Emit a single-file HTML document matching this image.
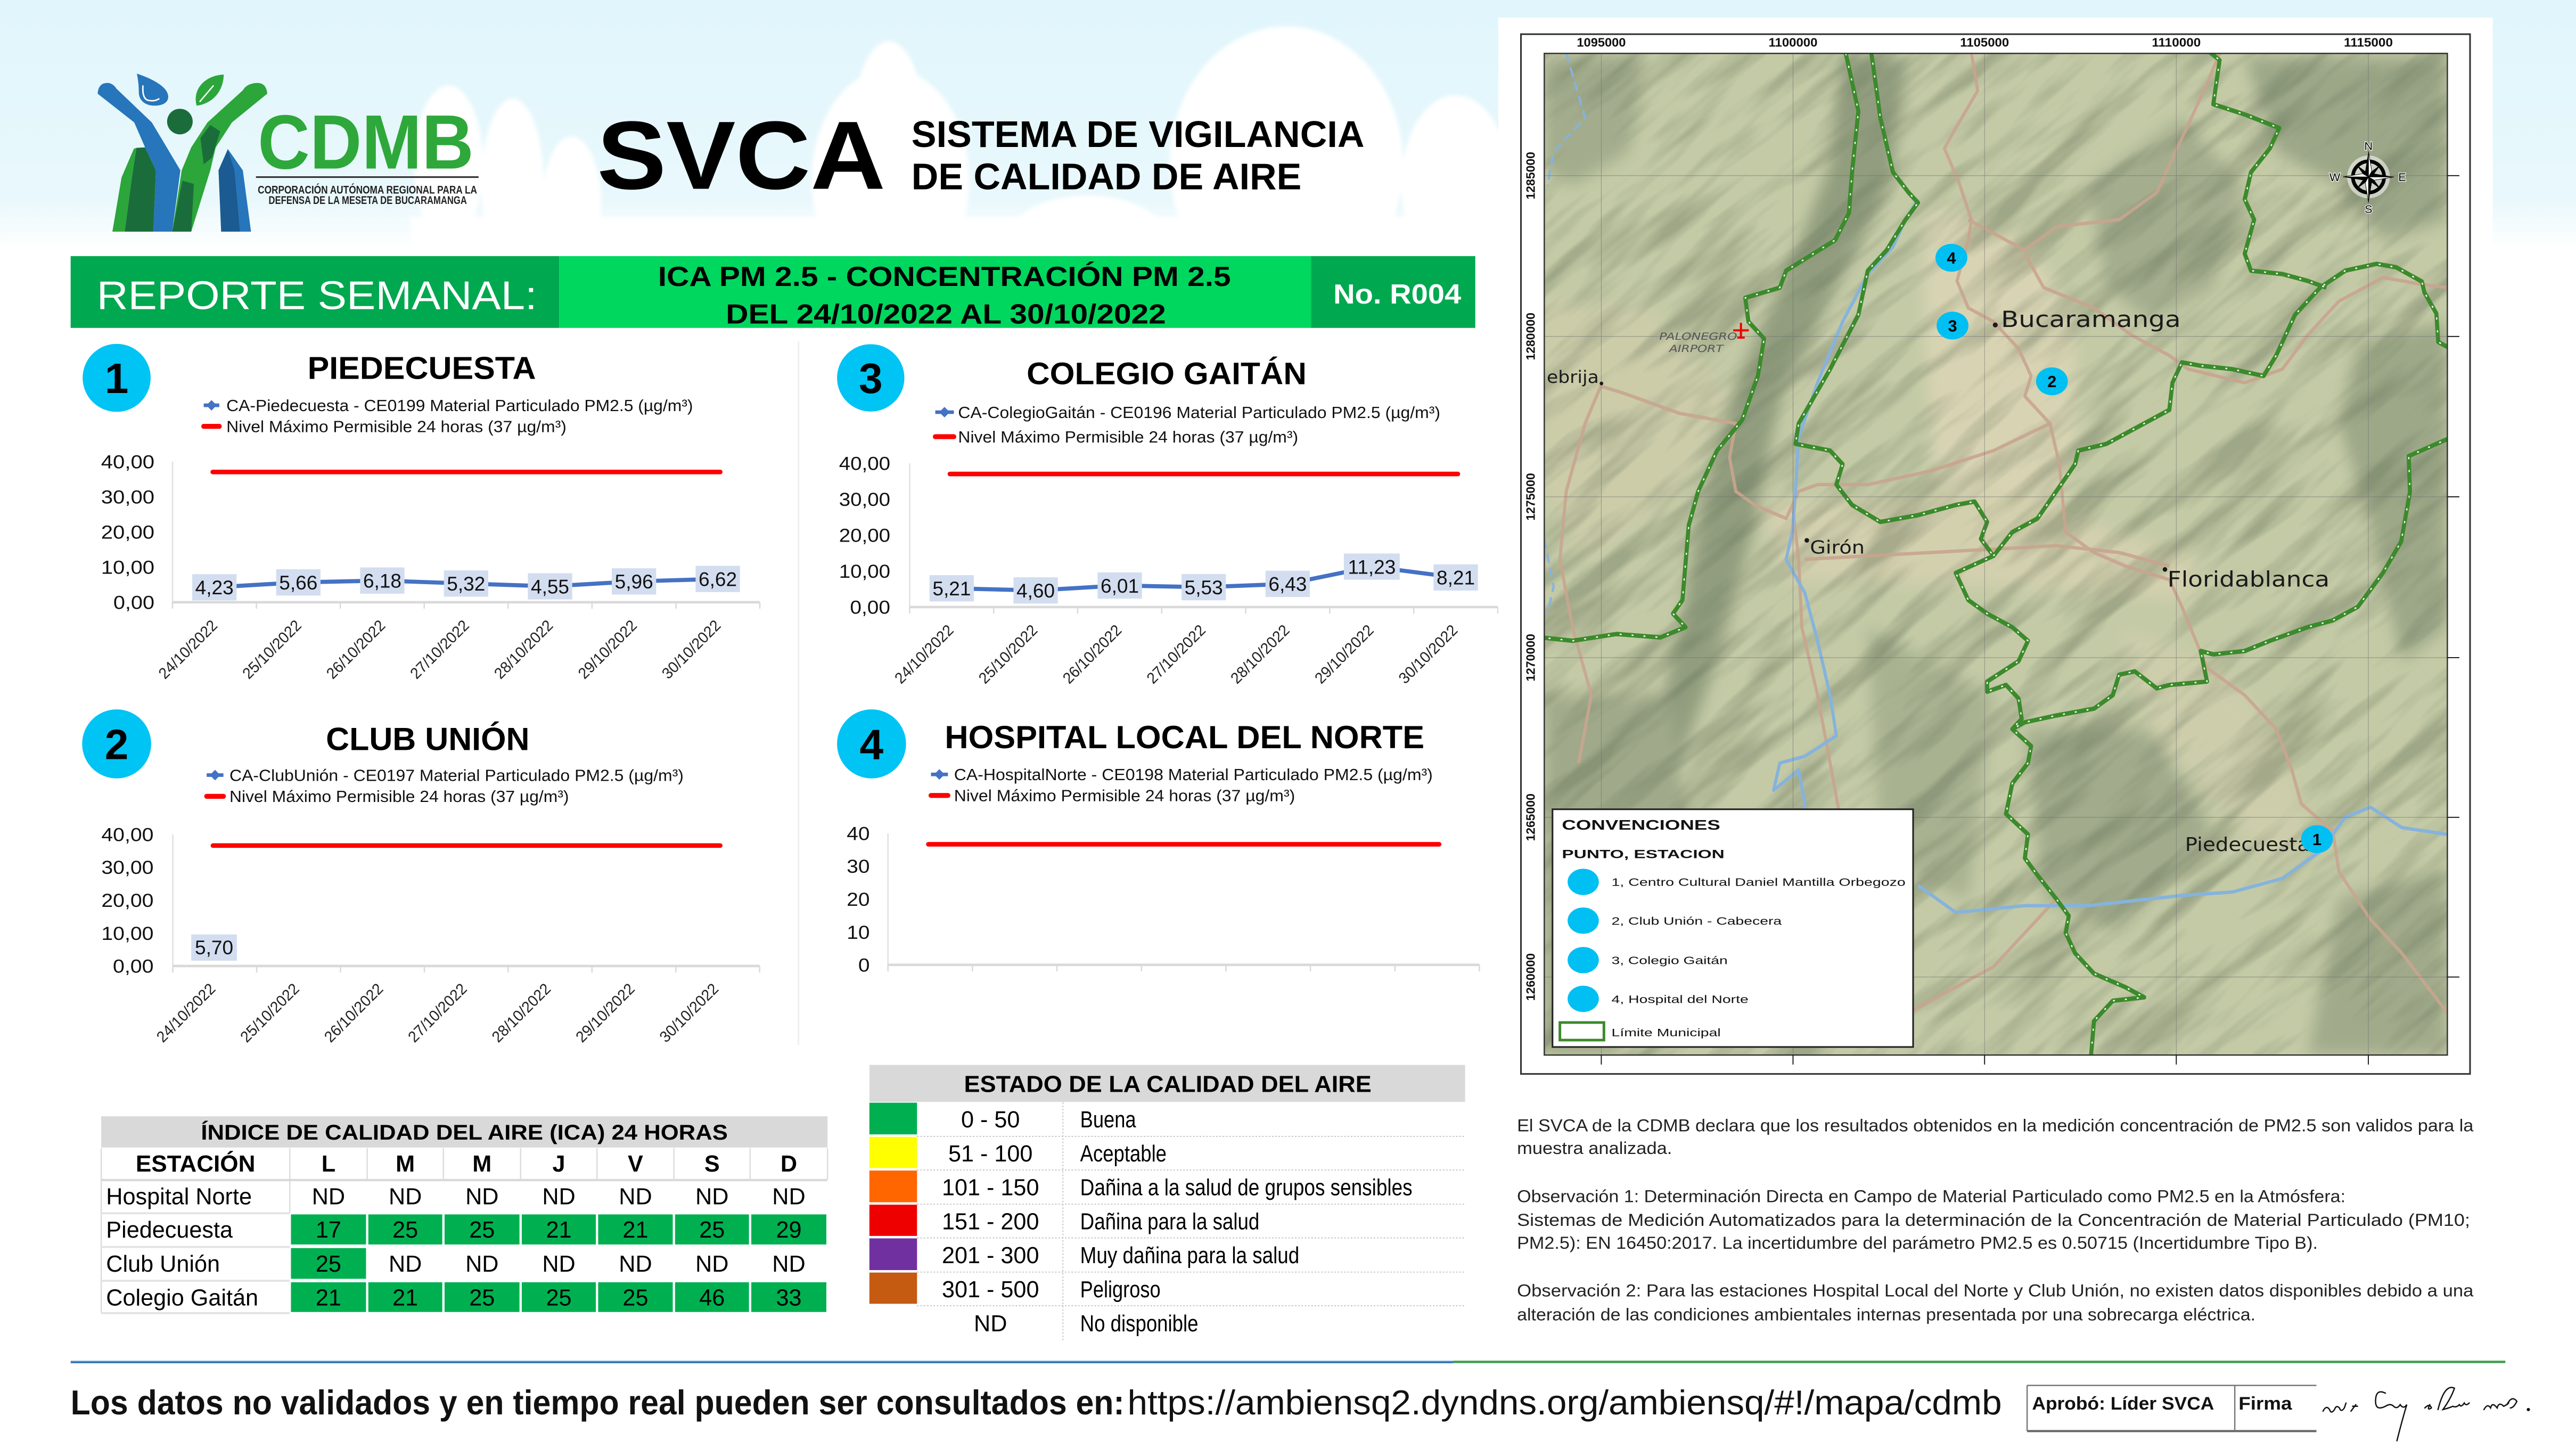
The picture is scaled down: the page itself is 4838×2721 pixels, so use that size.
<!DOCTYPE html>
<html><head><meta charset="utf-8">
<style>
html,body{margin:0;padding:0;background:#fff;overflow:hidden;width:4838px;height:2721px}
svg{display:block}
text{font-family:"Liberation Sans",Arial,sans-serif}
.dj{font-family:"DejaVu Sans","Liberation Sans",sans-serif}
</style></head><body>
<svg xmlns="http://www.w3.org/2000/svg" width="4838" height="2721" viewBox="0 0 1568 882" preserveAspectRatio="none">
<defs>
 <linearGradient id="sky" x1="0" y1="0" x2="0" y2="1">
  <stop offset="0" stop-color="#e0f6fc"/><stop offset="0.8" stop-color="#e9f8fc"/><stop offset="1" stop-color="#ffffff"/>
 </linearGradient>
 <filter id="bl" x="-20%" y="-20%" width="140%" height="140%"><feGaussianBlur stdDeviation="12"/></filter>
 <filter id="cb"><feGaussianBlur stdDeviation="1.2"/></filter>
 <filter id="tex" x="0" y="0" width="1" height="1" color-interpolation-filters="sRGB">
  <feTurbulence type="fractalNoise" baseFrequency="0.012 0.07" numOctaves="3" seed="7" stitchTiles="stitch"/>
  <feColorMatrix type="matrix" values="0 0 0 0 0.40  0 0 0 0 0.45  0 0 0 0 0.35  3 0 0 0 -1.3"/>
 </filter>
 <pattern id="texp" patternUnits="userSpaceOnUse" x="0" y="0" width="700" height="700" patternTransform="rotate(-40 1215 337)">
  <rect x="0" y="0" width="700" height="700" filter="url(#tex)"/>
 </pattern>
 <clipPath id="mc"><rect x="940" y="32.5" width="549.7" height="609.7"/></clipPath>
</defs>

<!-- background -->
<rect width="1568" height="882" fill="#fff"/>
<rect width="1568" height="152" fill="url(#sky)"/>
<g fill="#fff" filter="url(#cb)">
 <ellipse cx="273" cy="100" rx="21" ry="48"/>
 <ellipse cx="312" cy="112" rx="19" ry="52"/>
 <ellipse cx="348" cy="125" rx="18" ry="42"/>
 <ellipse cx="541" cy="92" rx="24" ry="67"/>
 <ellipse cx="542" cy="110" rx="48" ry="68"/>
 <ellipse cx="783" cy="100" rx="71" ry="84"/>
 <ellipse cx="886" cy="112" rx="33" ry="54"/>
 <ellipse cx="662" cy="145" rx="48" ry="26"/>
 <rect x="250" y="132" width="662" height="24"/>
</g>

<!-- LOGO -->
<g>
 <path d="M59.4,57 Q60,50 66,50.5 Q69,51 70.9,54 L92.4,74.5 L101.5,89.7 L109.8,103.7 L104.8,141 L93.3,141 L94.9,103.7 L88.3,89.7 L81.7,74.5 Z" fill="#2775bb"/>
 <path d="M83,90 L88.3,89.7 L94.9,103.7 L93.3,141 L75.9,141 L80,110 Z" fill="#1a6d3a"/>
 <path d="M81.5,90.5 L83,90 L80,110 L75.9,141 L68.4,141 L74,108 Z" fill="#2ca53a"/>
 <path d="M162.7,57 Q162,50 156,50.5 Q150,51 147.8,55 L126.3,74.5 L116.4,89.7 L110.6,103.7 L104.8,141 L116.4,141 L128,103.7 L131.3,89.7 L141.2,74.5 Z" fill="#2ca53a"/>
 <path d="M122,84 L128,76 L134,80 L129,96 L124,100 Z" fill="#1a6d3a"/>
 <path d="M104.8,141 L116.4,141 L118,112 L111,110 Z" fill="#1a6d3a"/>
 <path d="M138.7,90.7 L142.9,103.7 L146.2,141 L134.6,141 L133,103.7 Z" fill="#1b5b92"/>
 <path d="M138.7,90.7 L147.8,103.7 L152.8,141 L146.2,141 L142.9,103.7 Z" fill="#2775bb"/>
 <circle cx="109.5" cy="74" r="7.8" fill="#1a6d3a"/>
 <path d="M83.3,44.8 C90,47 102,52 102.4,58.5 C102.6,63 98,64.5 93.3,64.3 C88,64 84.5,61 84.5,56 C84.5,52 84,48 83.3,44.8 Z" fill="#2775bb"/>
 <path d="M87,52 Q86.5,60 90,61 Q94,62 97,60" stroke="#fff" stroke-width="0.9" fill="none"/>
 <path d="M119.7,64.3 C117,55 124,46 136.2,45.4 C136,55 130,63 119.7,64.3 Z" fill="#2ca53a"/>
 <path d="M121.5,62 L130,52" stroke="#fff" stroke-width="0.8"/>
 <text x="156.9" y="102.6" font-size="46.8" font-weight="bold" fill="#2ea83a" textLength="131.5" lengthAdjust="spacingAndGlyphs">CDMB</text>
 <line x1="155.8" y1="107.8" x2="291.3" y2="107.8" stroke="#333" stroke-width="1"/>
 <text x="156.9" y="117.8" font-size="6.8" font-weight="bold" fill="#222" textLength="133.5" lengthAdjust="spacingAndGlyphs">CORPORACIÓN AUTÓNOMA REGIONAL PARA LA</text>
 <text x="163.5" y="124.2" font-size="6.8" font-weight="bold" fill="#222" textLength="120.7" lengthAdjust="spacingAndGlyphs">DEFENSA DE LA MESETA DE BUCARAMANGA</text>
</g>

<!-- Title -->
<text x="363.4" y="114.9" font-size="59" font-weight="bold" fill="#000" textLength="175.6" lengthAdjust="spacingAndGlyphs">SVCA</text>
<text x="554.8" y="89.4" font-size="22.6" font-weight="bold" fill="#000" textLength="275.7" lengthAdjust="spacingAndGlyphs">SISTEMA DE VIGILANCIA</text>
<text x="554.8" y="115.3" font-size="22.6" font-weight="bold" fill="#000" textLength="237.4" lengthAdjust="spacingAndGlyphs">DE CALIDAD DE AIRE</text>

<!-- Green bar -->
<rect x="43" y="155.9" width="297.4" height="43.7" fill="#00a84f"/>
<rect x="340.4" y="155.9" width="457.6" height="43.7" fill="#00d75f"/>
<rect x="798" y="155.9" width="100" height="43.7" fill="#00a84f"/>
<text x="58.9" y="188.2" font-size="24.4" fill="#fff" textLength="268" lengthAdjust="spacingAndGlyphs">REPORTE SEMANAL:</text>
<text x="574.85" y="174" font-size="16.8" font-weight="bold" fill="#000" text-anchor="middle" textLength="348.7" lengthAdjust="spacingAndGlyphs">ICA PM 2.5 - CONCENTRACIÓN PM 2.5</text>
<text x="575.75" y="196.9" font-size="16.8" font-weight="bold" fill="#000" text-anchor="middle" textLength="267.9" lengthAdjust="spacingAndGlyphs">DEL 24/10/2022 AL 30/10/2022</text>
<text x="811.6" y="184.8" font-size="16.8" font-weight="bold" fill="#fff" textLength="77.8" lengthAdjust="spacingAndGlyphs">No. R004</text>

<!-- divider -->
<line x1="486" y1="208" x2="486" y2="636" stroke="#eeeeee" stroke-width="1"/>

<!-- ================= CHART 1 ================= -->
<circle cx="71" cy="230" r="20.7" fill="#00c4f4"/>
<text x="71" y="239.3" font-size="26" font-weight="bold" text-anchor="middle">1</text>
<text x="187.2" y="230.6" font-size="19.3" font-weight="bold" textLength="139" lengthAdjust="spacingAndGlyphs">PIEDECUESTA</text>
<line x1="124" y1="246.7" x2="133.5" y2="246.7" stroke="#4472c4" stroke-width="2.2"/>
<polygon points="128.75,243.5 131.9,246.7 128.75,249.9 125.6,246.7" fill="#4472c4"/>
<text x="137.8" y="250.3" font-size="10" fill="#111" textLength="284" lengthAdjust="spacingAndGlyphs">CA-Piedecuesta - CE0199 Material Particulado PM2.5 (µg/m³)</text>
<line x1="124" y1="259.5" x2="133.5" y2="259.5" stroke="#f00" stroke-width="3" stroke-linecap="round"/>
<text x="137.8" y="263" font-size="10" fill="#111" textLength="207" lengthAdjust="spacingAndGlyphs">Nivel Máximo Permisible 24 horas (37 µg/m³)</text>
<g font-size="11.5" text-anchor="end" fill="#111">
 <text x="94" y="285.1" textLength="32.5" lengthAdjust="spacingAndGlyphs">40,00</text>
 <text x="94" y="306.5" textLength="32.5" lengthAdjust="spacingAndGlyphs">30,00</text>
 <text x="94" y="327.9" textLength="32.5" lengthAdjust="spacingAndGlyphs">20,00</text>
 <text x="94" y="349.3" textLength="32.5" lengthAdjust="spacingAndGlyphs">10,00</text>
 <text x="94" y="370.7" textLength="25" lengthAdjust="spacingAndGlyphs">0,00</text>
</g>
<line x1="105" y1="281" x2="105" y2="366.6" stroke="#e0e0e0" stroke-width="0.8"/>
<line x1="105" y1="366.6" x2="462.5" y2="366.6" stroke="#d9d9d9" stroke-width="1.5"/>
<g stroke="#d9d9d9" stroke-width="0.8">
 <line x1="105" y1="366.6" x2="105" y2="370.5"/><line x1="156.07" y1="366.6" x2="156.07" y2="370.5"/><line x1="207.14" y1="366.6" x2="207.14" y2="370.5"/><line x1="258.21" y1="366.6" x2="258.21" y2="370.5"/><line x1="309.29" y1="366.6" x2="309.29" y2="370.5"/><line x1="360.36" y1="366.6" x2="360.36" y2="370.5"/><line x1="411.43" y1="366.6" x2="411.43" y2="370.5"/><line x1="462.5" y1="366.6" x2="462.5" y2="370.5"/>
</g>
<line x1="129.5" y1="287.3" x2="438.4" y2="287.3" stroke="#ff0000" stroke-width="2.8" stroke-linecap="round"/>
<polyline points="130.5,357.5 181.6,354.5 232.7,353.4 283.7,355.2 334.8,356.9 385.9,353.9 436.9,352.4" fill="none" stroke="#4472c4" stroke-width="2.5" stroke-linejoin="round"/>
<g fill="#d3ddf0">
 <rect x="117" y="349.5" width="27" height="16"/><rect x="168.1" y="346.5" width="27" height="16"/><rect x="219.2" y="345.4" width="27" height="16"/><rect x="270.2" y="347.2" width="27" height="16"/><rect x="321.3" y="348.9" width="27" height="16"/><rect x="372.4" y="345.9" width="27" height="16"/><rect x="423.4" y="344.4" width="27" height="16"/>
</g>
<g font-size="12" text-anchor="middle" fill="#111">
 <text x="130.5" y="361.8">4,23</text><text x="181.6" y="358.8">5,66</text><text x="232.7" y="357.7">6,18</text><text x="283.7" y="359.5">5,32</text><text x="334.8" y="361.2">4,55</text><text x="385.9" y="358.2">5,96</text><text x="436.9" y="356.7">6,62</text>
</g>
<g font-size="9.5" text-anchor="end" fill="#222">
 <text transform="translate(132.9,381.3) rotate(-45)" textLength="46" lengthAdjust="spacingAndGlyphs">24/10/2022</text>
 <text transform="translate(184,381.3) rotate(-45)" textLength="46" lengthAdjust="spacingAndGlyphs">25/10/2022</text>
 <text transform="translate(235.1,381.3) rotate(-45)" textLength="46" lengthAdjust="spacingAndGlyphs">26/10/2022</text>
 <text transform="translate(286.1,381.3) rotate(-45)" textLength="46" lengthAdjust="spacingAndGlyphs">27/10/2022</text>
 <text transform="translate(337.2,381.3) rotate(-45)" textLength="46" lengthAdjust="spacingAndGlyphs">28/10/2022</text>
 <text transform="translate(388.3,381.3) rotate(-45)" textLength="46" lengthAdjust="spacingAndGlyphs">29/10/2022</text>
 <text transform="translate(439.3,381.3) rotate(-45)" textLength="46" lengthAdjust="spacingAndGlyphs">30/10/2022</text>
</g>

<!-- ================= CHART 3 ================= -->
<circle cx="530" cy="230" r="20.5" fill="#00c4f4"/>
<text x="530" y="239.3" font-size="26" font-weight="bold" text-anchor="middle">3</text>
<text x="624.9" y="233.9" font-size="19" font-weight="bold" textLength="170.4" lengthAdjust="spacingAndGlyphs">COLEGIO GAITÁN</text>
<line x1="569.3" y1="250.9" x2="580.6" y2="250.9" stroke="#4472c4" stroke-width="2.2"/>
<polygon points="574.9,247.7 578.1,250.9 574.9,254.1 571.7,250.9" fill="#4472c4"/>
<text x="583.2" y="254.4" font-size="10" fill="#111" textLength="293.5" lengthAdjust="spacingAndGlyphs">CA-ColegioGaitán  - CE0196 Material Particulado PM2.5 (µg/m³)</text>
<line x1="569.3" y1="265.8" x2="580.6" y2="265.8" stroke="#f00" stroke-width="3" stroke-linecap="round"/>
<text x="583.2" y="269.3" font-size="10" fill="#111" textLength="207" lengthAdjust="spacingAndGlyphs">Nivel Máximo Permisible 24 horas (37 µg/m³)</text>
<g font-size="11.5" text-anchor="end" fill="#111">
 <text x="541.9" y="286.1" textLength="31.2" lengthAdjust="spacingAndGlyphs">40,00</text>
 <text x="541.9" y="308" textLength="31.2" lengthAdjust="spacingAndGlyphs">30,00</text>
 <text x="541.9" y="329.9" textLength="31.2" lengthAdjust="spacingAndGlyphs">20,00</text>
 <text x="541.9" y="351.7" textLength="31.2" lengthAdjust="spacingAndGlyphs">10,00</text>
 <text x="541.9" y="373.6" textLength="24.5" lengthAdjust="spacingAndGlyphs">0,00</text>
</g>
<line x1="553.7" y1="282" x2="553.7" y2="369.5" stroke="#e0e0e0" stroke-width="0.8"/>
<line x1="553.7" y1="369.5" x2="911.7" y2="369.5" stroke="#d9d9d9" stroke-width="1.5"/>
<g stroke="#d9d9d9" stroke-width="0.8">
 <line x1="553.7" y1="369.5" x2="553.7" y2="373.5"/><line x1="604.84" y1="369.5" x2="604.84" y2="373.5"/><line x1="655.98" y1="369.5" x2="655.98" y2="373.5"/><line x1="707.12" y1="369.5" x2="707.12" y2="373.5"/><line x1="758.26" y1="369.5" x2="758.26" y2="373.5"/><line x1="809.4" y1="369.5" x2="809.4" y2="373.5"/><line x1="860.54" y1="369.5" x2="860.54" y2="373.5"/><line x1="911.7" y1="369.5" x2="911.7" y2="373.5"/>
</g>
<line x1="578.2" y1="288.5" x2="887.4" y2="288.5" stroke="#ff0000" stroke-width="2.8" stroke-linecap="round"/>
<polyline points="579.3,358.1 630.4,359.4 681.6,356.4 732.7,357.4 783.8,355.4 835,344.9 886.1,351.5" fill="none" stroke="#4472c4" stroke-width="2.5" stroke-linejoin="round"/>
<g fill="#d3ddf0">
 <rect x="565.8" y="350.1" width="27" height="16"/><rect x="616.9" y="351.4" width="27" height="16"/><rect x="668.1" y="348.4" width="27" height="16"/><rect x="719.2" y="349.4" width="27" height="16"/><rect x="770.3" y="347.4" width="27" height="16"/><rect x="818" y="336.9" width="34" height="16"/><rect x="872.6" y="343.5" width="27" height="16"/>
</g>
<g font-size="12" text-anchor="middle" fill="#111">
 <text x="579.3" y="362.4">5,21</text><text x="630.4" y="363.7">4,60</text><text x="681.6" y="360.7">6,01</text><text x="732.7" y="361.7">5,53</text><text x="783.8" y="359.7">6,43</text><text x="835" y="349.2">11,23</text><text x="886.1" y="355.8">8,21</text>
</g>
<g font-size="9.5" text-anchor="end" fill="#222">
 <text transform="translate(581,384.2) rotate(-45)" textLength="46" lengthAdjust="spacingAndGlyphs">24/10/2022</text>
 <text transform="translate(632.1,384.2) rotate(-45)" textLength="46" lengthAdjust="spacingAndGlyphs">25/10/2022</text>
 <text transform="translate(683.3,384.2) rotate(-45)" textLength="46" lengthAdjust="spacingAndGlyphs">26/10/2022</text>
 <text transform="translate(734.4,384.2) rotate(-45)" textLength="46" lengthAdjust="spacingAndGlyphs">27/10/2022</text>
 <text transform="translate(785.5,384.2) rotate(-45)" textLength="46" lengthAdjust="spacingAndGlyphs">28/10/2022</text>
 <text transform="translate(836.7,384.2) rotate(-45)" textLength="46" lengthAdjust="spacingAndGlyphs">29/10/2022</text>
 <text transform="translate(887.8,384.2) rotate(-45)" textLength="46" lengthAdjust="spacingAndGlyphs">30/10/2022</text>
</g>

<!-- ================= CHART 2 ================= -->
<circle cx="71" cy="452.8" r="21" fill="#00c4f4"/>
<text x="71" y="462.1" font-size="26" font-weight="bold" text-anchor="middle">2</text>
<text x="198.4" y="456.6" font-size="19.5" font-weight="bold" textLength="123.9" lengthAdjust="spacingAndGlyphs">CLUB UNIÓN</text>
<line x1="125.8" y1="471.8" x2="136" y2="471.8" stroke="#4472c4" stroke-width="2.2"/>
<polygon points="130.9,468.6 134.1,471.8 130.9,475 127.7,471.8" fill="#4472c4"/>
<text x="139.7" y="475.3" font-size="10" fill="#111" textLength="276.4" lengthAdjust="spacingAndGlyphs">CA-ClubUnión - CE0197 Material Particulado PM2.5 (µg/m³)</text>
<line x1="125.8" y1="484.7" x2="136" y2="484.7" stroke="#f00" stroke-width="3" stroke-linecap="round"/>
<text x="139.7" y="488.2" font-size="10" fill="#111" textLength="206.6" lengthAdjust="spacingAndGlyphs">Nivel Máximo Permisible 24 horas (37 µg/m³)</text>
<g font-size="11.5" text-anchor="end" fill="#111">
 <text x="93.5" y="512" textLength="31.8" lengthAdjust="spacingAndGlyphs">40,00</text>
 <text x="93.5" y="532" textLength="31.8" lengthAdjust="spacingAndGlyphs">30,00</text>
 <text x="93.5" y="552.1" textLength="31.8" lengthAdjust="spacingAndGlyphs">20,00</text>
 <text x="93.5" y="572.1" textLength="31.8" lengthAdjust="spacingAndGlyphs">10,00</text>
 <text x="93.5" y="592.1" textLength="24.8" lengthAdjust="spacingAndGlyphs">0,00</text>
</g>
<line x1="105.2" y1="507.9" x2="105.2" y2="588" stroke="#e0e0e0" stroke-width="0.8"/>
<line x1="105.2" y1="588" x2="462.4" y2="588" stroke="#d9d9d9" stroke-width="1.5"/>
<g stroke="#d9d9d9" stroke-width="0.8">
 <line x1="105.2" y1="588" x2="105.2" y2="592"/><line x1="156.23" y1="588" x2="156.23" y2="592"/><line x1="207.26" y1="588" x2="207.26" y2="592"/><line x1="258.29" y1="588" x2="258.29" y2="592"/><line x1="309.31" y1="588" x2="309.31" y2="592"/><line x1="360.34" y1="588" x2="360.34" y2="592"/><line x1="411.37" y1="588" x2="411.37" y2="592"/><line x1="462.4" y1="588" x2="462.4" y2="592"/>
</g>
<line x1="129.6" y1="514.7" x2="438.4" y2="514.7" stroke="#ff0000" stroke-width="2.8" stroke-linecap="round"/>
<rect x="116.4" y="568.8" width="27.8" height="16" fill="#d3ddf0"/>
<text x="130.3" y="580.9" font-size="12" text-anchor="middle" fill="#111">5,70</text>
<g font-size="9.5" text-anchor="end" fill="#222">
 <text transform="translate(131.7,602.5) rotate(-45)" textLength="46" lengthAdjust="spacingAndGlyphs">24/10/2022</text>
 <text transform="translate(182.7,602.5) rotate(-45)" textLength="46" lengthAdjust="spacingAndGlyphs">25/10/2022</text>
 <text transform="translate(233.8,602.5) rotate(-45)" textLength="46" lengthAdjust="spacingAndGlyphs">26/10/2022</text>
 <text transform="translate(284.8,602.5) rotate(-45)" textLength="46" lengthAdjust="spacingAndGlyphs">27/10/2022</text>
 <text transform="translate(335.8,602.5) rotate(-45)" textLength="46" lengthAdjust="spacingAndGlyphs">28/10/2022</text>
 <text transform="translate(386.9,602.5) rotate(-45)" textLength="46" lengthAdjust="spacingAndGlyphs">29/10/2022</text>
 <text transform="translate(437.9,602.5) rotate(-45)" textLength="46" lengthAdjust="spacingAndGlyphs">30/10/2022</text>
</g>

<!-- ================= CHART 4 ================= -->
<circle cx="530.5" cy="452.8" r="21" fill="#00c4f4"/>
<text x="530.5" y="462.1" font-size="26" font-weight="bold" text-anchor="middle">4</text>
<text x="575.1" y="455.5" font-size="19.5" font-weight="bold" textLength="291.9" lengthAdjust="spacingAndGlyphs">HOSPITAL LOCAL DEL NORTE</text>
<line x1="566.7" y1="471.4" x2="577" y2="471.4" stroke="#4472c4" stroke-width="2.2"/>
<polygon points="571.8,468.2 575,471.4 571.8,474.6 568.6,471.4" fill="#4472c4"/>
<text x="580.7" y="474.9" font-size="10" fill="#111" textLength="291.4" lengthAdjust="spacingAndGlyphs">CA-HospitalNorte - CE0198 Material Particulado PM2.5 (µg/m³)</text>
<line x1="566.7" y1="484.2" x2="577" y2="484.2" stroke="#f00" stroke-width="3" stroke-linecap="round"/>
<text x="580.7" y="487.7" font-size="10" fill="#111" textLength="207.6" lengthAdjust="spacingAndGlyphs">Nivel Máximo Permisible 24 horas (37 µg/m³)</text>
<g font-size="11.5" text-anchor="end" fill="#111">
 <text x="529.4" y="511.3" textLength="14" lengthAdjust="spacingAndGlyphs">40</text>
 <text x="529.4" y="531.3" textLength="14" lengthAdjust="spacingAndGlyphs">30</text>
 <text x="529.4" y="551.4" textLength="14" lengthAdjust="spacingAndGlyphs">20</text>
 <text x="529.4" y="571.4" textLength="14" lengthAdjust="spacingAndGlyphs">10</text>
 <text x="529.4" y="591.4" textLength="7" lengthAdjust="spacingAndGlyphs">0</text>
</g>
<line x1="540.5" y1="507.2" x2="540.5" y2="587.3" stroke="#e0e0e0" stroke-width="0.8"/>
<line x1="540.5" y1="587.3" x2="900.5" y2="587.3" stroke="#d9d9d9" stroke-width="1.5"/>
<g stroke="#d9d9d9" stroke-width="0.8">
 <line x1="540.5" y1="587.3" x2="540.5" y2="591.3"/><line x1="591.93" y1="587.3" x2="591.93" y2="591.3"/><line x1="643.36" y1="587.3" x2="643.36" y2="591.3"/><line x1="694.79" y1="587.3" x2="694.79" y2="591.3"/><line x1="746.21" y1="587.3" x2="746.21" y2="591.3"/><line x1="797.64" y1="587.3" x2="797.64" y2="591.3"/><line x1="849.07" y1="587.3" x2="849.07" y2="591.3"/><line x1="900.5" y1="587.3" x2="900.5" y2="591.3"/>
</g>
<line x1="565.1" y1="513.9" x2="876" y2="513.9" stroke="#ff0000" stroke-width="2.8" stroke-linecap="round"/>

<!-- ================= ICA TABLE ================= -->
<rect x="61.6" y="679.5" width="442.1" height="19" fill="#d9d9d9"/>
<text x="282.65" y="693.6" font-size="13" font-weight="bold" text-anchor="middle" fill="#000" textLength="320.7" lengthAdjust="spacingAndGlyphs">ÍNDICE DE CALIDAD DEL AIRE (ICA) 24 HORAS</text>
<g stroke="#dcdcdc" stroke-width="0.8">
 <line x1="176.4" y1="698.9" x2="176.4" y2="718"/><line x1="223.5" y1="698.9" x2="223.5" y2="718"/><line x1="269.9" y1="698.9" x2="269.9" y2="718"/><line x1="316.9" y1="698.9" x2="316.9" y2="718"/><line x1="363.4" y1="698.9" x2="363.4" y2="718"/><line x1="410.2" y1="698.9" x2="410.2" y2="718"/><line x1="456.6" y1="698.9" x2="456.6" y2="718"/><line x1="503.7" y1="698.9" x2="503.7" y2="718"/>
 <line x1="61.6" y1="698.9" x2="61.6" y2="799"/>
 <line x1="176.4" y1="718" x2="176.4" y2="738.4"/>
</g>
<line x1="61.6" y1="718.3" x2="503.7" y2="718.3" stroke="#d9d9d9" stroke-width="1.4"/>
<g stroke="#e2e2e2" stroke-width="1.2">
 <line x1="61.6" y1="738.5" x2="176.4" y2="738.5"/><line x1="61.6" y1="759" x2="176.4" y2="759"/><line x1="61.6" y1="779.6" x2="176.4" y2="779.6"/><line x1="61.6" y1="799.3" x2="176.4" y2="799.3"/>
</g>
<g font-size="14" font-weight="bold" text-anchor="middle" fill="#000">
 <text x="119" y="713.2" textLength="72.8" lengthAdjust="spacingAndGlyphs">ESTACIÓN</text>
 <text x="199.95" y="713.2">L</text><text x="246.7" y="713.2">M</text><text x="293.4" y="713.2">M</text><text x="340.15" y="713.2">J</text><text x="386.8" y="713.2">V</text><text x="433.4" y="713.2">S</text><text x="480.15" y="713.2">D</text>
</g>
<g fill="#00b050">
 <rect x="177.1" y="739.2" width="45.7" height="18.3"/><rect x="224.2" y="739.2" width="45" height="18.3"/><rect x="270.6" y="739.2" width="45.6" height="18.3"/><rect x="317.6" y="739.2" width="45.1" height="18.3"/><rect x="364.1" y="739.2" width="45.4" height="18.3"/><rect x="410.9" y="739.2" width="45" height="18.3"/><rect x="457.3" y="739.2" width="45.7" height="18.3"/>
 <rect x="177.1" y="759.7" width="45.7" height="18.7"/>
 <rect x="177.1" y="780.5" width="45.7" height="18.1"/><rect x="224.2" y="780.5" width="45" height="18.1"/><rect x="270.6" y="780.5" width="45.6" height="18.1"/><rect x="317.6" y="780.5" width="45.1" height="18.1"/><rect x="364.1" y="780.5" width="45.4" height="18.1"/><rect x="410.9" y="780.5" width="45" height="18.1"/><rect x="457.3" y="780.5" width="45.7" height="18.1"/>
</g>
<g font-size="14" fill="#000">
 <text x="64.6" y="733.1">Hospital Norte</text>
 <text x="64.6" y="753.3">Piedecuesta</text>
 <text x="64.6" y="774">Club Unión</text>
 <text x="64.6" y="794.6">Colegio Gaitán</text>
</g>
<g font-size="14" text-anchor="middle" fill="#000">
 <text x="199.95" y="733.1">ND</text><text x="246.7" y="733.1">ND</text><text x="293.4" y="733.1">ND</text><text x="340.15" y="733.1">ND</text><text x="386.8" y="733.1">ND</text><text x="433.4" y="733.1">ND</text><text x="480.15" y="733.1">ND</text>
 <text x="199.95" y="753.3">17</text><text x="246.7" y="753.3">25</text><text x="293.4" y="753.3">25</text><text x="340.15" y="753.3">21</text><text x="386.8" y="753.3">21</text><text x="433.4" y="753.3">25</text><text x="480.15" y="753.3">29</text>
 <text x="199.95" y="774">25</text><text x="246.7" y="774">ND</text><text x="293.4" y="774">ND</text><text x="340.15" y="774">ND</text><text x="386.8" y="774">ND</text><text x="433.4" y="774">ND</text><text x="480.15" y="774">ND</text>
 <text x="199.95" y="794.6">21</text><text x="246.7" y="794.6">21</text><text x="293.4" y="794.6">25</text><text x="340.15" y="794.6">25</text><text x="386.8" y="794.6">25</text><text x="433.4" y="794.6">46</text><text x="480.15" y="794.6">33</text>
</g>

<!-- ================= ESTADO TABLE ================= -->
<rect x="529.2" y="648.2" width="362.6" height="22.5" fill="#d9d9d9"/>
<text x="710.8" y="664.6" font-size="14" font-weight="bold" text-anchor="middle" fill="#000" textLength="248" lengthAdjust="spacingAndGlyphs">ESTADO DE LA CALIDAD DEL AIRE</text>
<rect x="529.2" y="671.2" width="29" height="19.3" fill="#00b050"/>
<rect x="529.2" y="692" width="29" height="19" fill="#ffff00"/>
<rect x="529.2" y="712.5" width="29" height="19.3" fill="#ff6600"/>
<rect x="529.2" y="733.3" width="29" height="19" fill="#ee0000"/>
<rect x="529.2" y="753.8" width="29" height="19.3" fill="#7030a0"/>
<rect x="529.2" y="774.6" width="29" height="19" fill="#c55a11"/>
<g stroke="#c4c4c4" stroke-width="0.6" stroke-dasharray="1 1">
 <line x1="558.2" y1="691.7" x2="891.8" y2="691.7"/><line x1="558.2" y1="712.2" x2="891.8" y2="712.2"/><line x1="558.2" y1="733" x2="891.8" y2="733"/><line x1="558.2" y1="753.5" x2="891.8" y2="753.5"/><line x1="558.2" y1="774.3" x2="891.8" y2="774.3"/><line x1="558.2" y1="794.8" x2="891.8" y2="794.8"/>
 <line x1="647" y1="670.9" x2="647" y2="815.8"/>
</g>
<g font-size="14" text-anchor="middle" fill="#000">
 <text x="602.9" y="686.3">0 - 50</text><text x="602.9" y="707">51 - 100</text><text x="602.9" y="727.6">101 - 150</text><text x="602.9" y="748.3">151 - 200</text><text x="602.9" y="768.9">201 - 300</text><text x="602.9" y="789.6">301 - 500</text><text x="602.9" y="810.3">ND</text>
</g>
<g font-size="14" fill="#000">
 <text x="657.5" y="686.3" textLength="34" lengthAdjust="spacingAndGlyphs">Buena</text>
 <text x="657.5" y="707" textLength="52.6" lengthAdjust="spacingAndGlyphs">Aceptable</text>
 <text x="657.5" y="727.6" textLength="202.2" lengthAdjust="spacingAndGlyphs">Dañina a la salud de grupos sensibles</text>
 <text x="657.5" y="748.3" textLength="109.1" lengthAdjust="spacingAndGlyphs">Dañina para la salud</text>
 <text x="657.5" y="768.9" textLength="133.4" lengthAdjust="spacingAndGlyphs">Muy dañina para la salud</text>
 <text x="657.5" y="789.6" textLength="48.9" lengthAdjust="spacingAndGlyphs">Peligroso</text>
 <text x="657.5" y="810.3" textLength="71.9" lengthAdjust="spacingAndGlyphs">No disponible</text>
</g>

<!-- ================= MAP ================= -->
<rect x="912" y="10.8" width="605.3" height="646" fill="#fff"/>
<rect x="925.8" y="20.8" width="577.7" height="632.9" fill="none" stroke="#333" stroke-width="1"/>
<g clip-path="url(#mc)">
 <rect x="940" y="32.5" width="549.7" height="609.7" fill="#c4caa6"/>
 <g transform="translate(907.47,9.72) scale(0.3824,0.4134)">
  <g filter="url(#bl)">
   <polygon fill="#d8d4b3" points="690,280 780,300 860,340 930,450 930,620 900,760 800,790 720,760 700,600 690,450"/>
   <polygon fill="#d3d0ae" points="430,720 800,700 1000,760 1120,800 1120,860 800,840 470,830"/>
   <polygon fill="#cdcdab" points="1000,900 1150,950 1250,1050 1300,1200 1250,1250 1150,1150 1050,1050"/>
   <polygon fill="#cccca9" points="85,420 250,430 380,560 300,700 150,800 85,700"/>
   <polygon fill="#919d7e" points="560,60 660,60 640,230 560,380 460,560 420,750 360,950 300,1100 250,1100 300,900 340,700 400,520 480,360 540,220"/>
   <polygon fill="#a3ad8d" points="85,60 250,60 220,200 130,250 85,230"/>
   <polygon fill="#9ca788" points="1200,60 1522,60 1522,300 1420,330 1350,250 1250,200"/>
   <polygon fill="#9da888" points="1380,480 1522,450 1522,900 1450,950 1400,750 1350,600"/>
   <polygon fill="#a4ae8e" points="950,250 1100,150 1200,250 1150,400 1050,450 980,400"/>
   <polygon fill="#a2ac8c" points="850,1050 1050,1050 1150,1200 1000,1350 880,1300"/>
   <polygon fill="#a0aa8a" points="85,1000 280,1000 330,1250 200,1530 85,1530"/>
   <polygon fill="#a1ab8b" points="1350,1300 1522,1250 1522,1530 1300,1530"/>
   <polygon fill="#a8b291" points="600,900 800,1000 760,1300 620,1250"/>
  </g>
 </g>
 <rect x="940" y="32.5" width="549.7" height="609.7" fill="url(#texp)" opacity="0.4"/>
 <g transform="translate(907.47,9.72) scale(0.3824,0.4134)">
  <g fill="none" stroke="#c9a58f" stroke-width="5" stroke-linejoin="round" opacity="0.9">
   <polyline points="765,55 775,110 740,165 722,195 745,245 765,300 760,330 742,390 760,430 800,450 840,490 860,530 850,560 890,600 905,660 915,760 960,790 1010,810 1080,830 1100,870 1140,960 1200,1000 1250,1050 1275,1110 1290,1160 1340,1200 1350,1260 1400,1330 1450,1380 1522,1467"/>
   <polyline points="760,300 800,320 850,345 900,310 1000,300 1060,260 1100,180 1140,100 1160,55"/>
   <polyline points="850,350 880,400 960,430 1020,470 1080,500 1110,520 1200,540 1260,520 1300,470 1350,420 1420,385 1480,395 1522,400"/>
   <polyline points="890,600 800,640 700,670 600,690 520,690 490,700 470,740 420,720 390,700 380,650 390,600 300,585 210,555 175,545 150,600 120,700 110,800 130,900 160,1000 140,1100"/>
   <polyline points="480,720 490,800 495,900 520,1000 540,1100 560,1200 580,1300"/>
   <polyline points="500,800 700,790 900,780 1000,790 1080,810"/>
   <polyline points="600,1500 700,1450 800,1400 900,1300"/>
  </g>
  <g fill="none" stroke="#86b3dc" stroke-width="5" stroke-linejoin="round">
   <polyline points="680,270 660,300 640,340 600,380 560,450 520,540 490,620 485,700 480,760 470,800 500,850 520,920 540,1000 550,1060 500,1090 460,1100 450,1140 490,1110 500,1160 490,1200"/>
   <polyline points="680,1280 740,1320 850,1310 950,1310 1100,1295 1180,1290 1260,1270 1320,1230 1360,1180 1400,1165 1450,1195 1522,1205"/>
  </g>
  <g fill="none" stroke="#86b3dc" stroke-width="3.5" stroke-dasharray="14 8">
   <polyline points="120,55 150,150 100,200 90,250"/>
   <polyline points="85,770 100,840 90,880"/>
  </g>
  <g fill="none" stroke="#3b8a2b" stroke-width="6.5" stroke-linejoin="round">
   <polyline points="565,55 585,140 575,230 570,290 548,330 470,375 460,400 405,415 410,450 435,475 425,530 400,595 360,640 330,700 315,750 305,860 290,880 310,900 270,915 200,910 130,920 80,915"/>
   <polyline points="605,50 620,150 640,230 665,260 680,275 660,300 630,345 600,375 585,440 540,520 490,600 485,630 540,640 560,660 550,690 575,720 620,745 680,735 740,720 770,715 790,745 780,770 800,795 740,820 760,860 790,880 830,900 855,920 840,950 790,980 790,995 820,985 840,1005 845,1035 830,1050 860,1075 855,1100 830,1130 820,1175 855,1205 850,1240 870,1265 900,1300 920,1325 915,1350 930,1380 960,1410 1010,1430 1040,1445 990,1450 960,1480 955,1535"/>
   <polyline points="800,795 830,760 870,740 900,700 930,660 935,640 980,630 1020,610 1060,590 1080,580 1085,540 1100,510 1130,515 1180,520 1230,530 1250,500 1280,440 1320,400 1360,375 1410,365 1441,370 1482,391 1486,407 1505,438 1508,480 1530,491"/>
   <polyline points="1140,50 1160,65 1150,130 1200,145 1255,165 1240,195 1210,230 1200,270 1215,300 1200,350 1210,375 1260,380 1300,390 1330,400"/>
   <polyline points="1530,620 1461,648 1463,701 1449,774 1420,820 1380,870 1340,890 1300,900 1240,920 1200,935 1150,940 1130,935 1140,980 1080,985 1060,990 1025,965 1000,970 990,1000 960,1020 900,1030 850,1040 830,1050"/>
  </g>
  <g fill="none" stroke="#fff" stroke-width="2" stroke-dasharray="3 16" stroke-linejoin="round">
   <polyline points="565,55 585,140 575,230 570,290 548,330 470,375 460,400 405,415 410,450 435,475 425,530 400,595 360,640 330,700 315,750 305,860 290,880 310,900 270,915 200,910 130,920 80,915"/>
   <polyline points="605,50 620,150 640,230 665,260 680,275 660,300 630,345 600,375 585,440 540,520 490,600 485,630 540,640 560,660 550,690 575,720 620,745 680,735 740,720 770,715 790,745 780,770 800,795 740,820 760,860 790,880 830,900 855,920 840,950 790,980 790,995 820,985 840,1005 845,1035 830,1050 860,1075 855,1100 830,1130 820,1175 855,1205 850,1240 870,1265 900,1300 920,1325 915,1350 930,1380 960,1410 1010,1430 1040,1445 990,1450 960,1480 955,1535"/>
   <polyline points="800,795 830,760 870,740 900,700 930,660 935,640 980,630 1020,610 1060,590 1080,580 1085,540 1100,510 1130,515 1180,520 1230,530 1250,500 1280,440 1320,400 1360,375 1410,365 1441,370 1482,391 1486,407 1505,438 1508,480 1530,491"/>
   <polyline points="1140,50 1160,65 1150,130 1200,145 1255,165 1240,195 1210,230 1200,270 1215,300 1200,350 1210,375 1260,380 1300,390 1330,400"/>
   <polyline points="1530,620 1461,648 1463,701 1449,774 1420,820 1380,870 1340,890 1300,900 1240,920 1200,935 1150,940 1130,935 1140,980 1080,985 1060,990 1025,965 1000,970 990,1000 960,1020 900,1030 850,1040 830,1050"/>
  </g>
 </g>
 <!-- grid -->
 <g stroke="#6f6f6f" stroke-width="0.35" opacity="0.6">
  <line x1="974.7" y1="32.5" x2="974.7" y2="642.2"/><line x1="1091.4" y1="32.5" x2="1091.4" y2="642.2"/><line x1="1208" y1="32.5" x2="1208" y2="642.2"/><line x1="1324.7" y1="32.5" x2="1324.7" y2="642.2"/><line x1="1441.6" y1="32.5" x2="1441.6" y2="642.2"/>
  <line x1="940" y1="106.9" x2="1489.7" y2="106.9"/><line x1="940" y1="204.8" x2="1489.7" y2="204.8"/><line x1="940" y1="302.4" x2="1489.7" y2="302.4"/><line x1="940" y1="400.3" x2="1489.7" y2="400.3"/><line x1="940" y1="497.5" x2="1489.7" y2="497.5"/><line x1="940" y1="594.7" x2="1489.7" y2="594.7"/>
 </g>
 <!-- place labels -->
 <g class="dj" fill="#1a1a1a">
  <circle cx="1214.5" cy="197.8" r="1.5"/>
  <text class="dj" x="1218" y="199" font-size="13.5" textLength="109.4" lengthAdjust="spacingAndGlyphs">Bucaramanga</text>
  <circle cx="1099.8" cy="328.9" r="1.4"/>
  <text class="dj" x="1101.7" y="337" font-size="11" textLength="33.3" lengthAdjust="spacingAndGlyphs">Girón</text>
  <circle cx="1317.8" cy="346.6" r="1.4"/>
  <text class="dj" x="1319.3" y="357" font-size="13" textLength="98.7" lengthAdjust="spacingAndGlyphs">Floridablanca</text>
  <text class="dj" x="1330" y="518" font-size="11.5" textLength="76" lengthAdjust="spacingAndGlyphs">Piedecuesta</text>
  <text class="dj" x="941.5" y="233" font-size="10.5" textLength="31.7" lengthAdjust="spacingAndGlyphs">ebrija</text>
  <circle cx="974.8" cy="233.4" r="1.1"/>
  <text class="dj" x="1010" y="206.8" font-size="6" font-style="italic" fill="#555" textLength="47.4" lengthAdjust="spacingAndGlyphs">PALONEGRO</text>
  <text class="dj" x="1016" y="214.2" font-size="6" font-style="italic" fill="#555" textLength="33" lengthAdjust="spacingAndGlyphs">AIRPORT</text>
 </g>
 <g stroke="#e00" stroke-width="1.3">
  <line x1="1055" y1="201.1" x2="1064.5" y2="201.1"/><line x1="1059.7" y1="196.5" x2="1059.7" y2="206"/><line x1="1057.5" y1="205.5" x2="1062" y2="205.5"/>
 </g>
 <!-- markers -->
 <g fill="#00bff3">
  <ellipse cx="1187.8" cy="156.9" rx="9.7" ry="8.5"/>
  <ellipse cx="1188.5" cy="198.2" rx="9.7" ry="8.5"/>
  <ellipse cx="1249" cy="232.1" rx="9.7" ry="8.5"/>
  <ellipse cx="1410.3" cy="510.8" rx="9.7" ry="8.5"/>
 </g>
 <g font-size="10" font-weight="bold" text-anchor="middle" fill="#000">
  <text x="1187.8" y="160.5">4</text><text x="1188.5" y="201.8">3</text><text x="1249" y="235.7">2</text><text x="1410.3" y="514.4">1</text>
 </g>
 <!-- compass -->
 <g transform="translate(1441.7,107.7)">
  <circle r="13" fill="#fff" opacity="0.55"/>
  <circle r="9.5" fill="none" stroke="#000" stroke-width="2.2"/>
  <polygon fill="#000" points="0,-15.5 2,-3.5 7.5,-7.5 3.5,-2 15.5,0 3.5,2 7.5,7.5 2,3.5 0,15.5 -2,3.5 -7.5,7.5 -3.5,2 -15.5,0 -3.5,-2 -7.5,-7.5 -2,-3.5"/>
  <g fill="#fff" stroke="#000" stroke-width="0.3">
   <polygon points="0,0 0,-15.5 2,-3.5"/><polygon points="0,0 15.5,0 3.5,2"/><polygon points="0,0 0,15.5 -2,3.5"/><polygon points="0,0 -15.5,0 -3.5,-2"/>
  </g>
  <g font-size="7" font-family="Liberation Serif,serif" text-anchor="middle" fill="#000" stroke="#fff" stroke-width="0.8" paint-order="stroke">
   <text x="0" y="-16.5">N</text><text x="0" y="22">S</text><text x="-20.5" y="2.5">W</text><text x="20.5" y="2.5">E</text>
  </g>
 </g>
</g>
<rect x="940" y="32.5" width="549.7" height="609.7" fill="none" stroke="#333" stroke-width="0.8"/>
<!-- map ticks and coordinate labels -->
<g stroke="#111" stroke-width="0.6">
 <line x1="1489.7" y1="106.9" x2="1497" y2="106.9"/><line x1="1489.7" y1="204.8" x2="1497" y2="204.8"/><line x1="1489.7" y1="302.4" x2="1497" y2="302.4"/><line x1="1489.7" y1="400.3" x2="1497" y2="400.3"/><line x1="1489.7" y1="497.5" x2="1497" y2="497.5"/><line x1="1489.7" y1="594.7" x2="1497" y2="594.7"/>
 <line x1="974.7" y1="642.2" x2="974.7" y2="648"/><line x1="1091.4" y1="642.2" x2="1091.4" y2="648"/><line x1="1208" y1="642.2" x2="1208" y2="648"/><line x1="1324.7" y1="642.2" x2="1324.7" y2="648"/><line x1="1441.6" y1="642.2" x2="1441.6" y2="648"/>
</g>
<g font-size="7.5" font-weight="bold" text-anchor="middle" fill="#111">
 <text x="974.7" y="28.3" textLength="29.8" lengthAdjust="spacingAndGlyphs">1095000</text>
 <text x="1091.4" y="28.3" textLength="29.8" lengthAdjust="spacingAndGlyphs">1100000</text>
 <text x="1208" y="28.3" textLength="29.8" lengthAdjust="spacingAndGlyphs">1105000</text>
 <text x="1324.7" y="28.3" textLength="29.8" lengthAdjust="spacingAndGlyphs">1110000</text>
 <text x="1441.6" y="28.3" textLength="29.8" lengthAdjust="spacingAndGlyphs">1115000</text>
 <text transform="translate(934.2,106.9) rotate(-90)" textLength="29" lengthAdjust="spacingAndGlyphs">1285000</text>
 <text transform="translate(934.2,204.8) rotate(-90)" textLength="29" lengthAdjust="spacingAndGlyphs">1280000</text>
 <text transform="translate(934.2,302.4) rotate(-90)" textLength="29" lengthAdjust="spacingAndGlyphs">1275000</text>
 <text transform="translate(934.2,400.3) rotate(-90)" textLength="29" lengthAdjust="spacingAndGlyphs">1270000</text>
 <text transform="translate(934.2,497.5) rotate(-90)" textLength="29" lengthAdjust="spacingAndGlyphs">1265000</text>
 <text transform="translate(934.2,594.7) rotate(-90)" textLength="29" lengthAdjust="spacingAndGlyphs">1260000</text>
</g>
<!-- map legend -->
<rect x="945" y="492.6" width="219.5" height="144.7" fill="#fff" stroke="#222" stroke-width="1"/>
<text x="950.7" y="505" font-size="8.5" font-weight="bold" fill="#111" textLength="96.4" lengthAdjust="spacingAndGlyphs">CONVENCIONES</text>
<text x="950.7" y="522.3" font-size="7.3" font-weight="bold" fill="#111" textLength="99" lengthAdjust="spacingAndGlyphs">PUNTO, ESTACION</text>
<g fill="#00bff3">
 <ellipse cx="963.7" cy="536.8" rx="9.5" ry="8"/><ellipse cx="963.7" cy="560.4" rx="9.5" ry="8"/><ellipse cx="963.7" cy="584.4" rx="9.5" ry="8"/><ellipse cx="963.7" cy="608" rx="9.5" ry="8"/>
</g>
<g font-size="6.5" fill="#111">
 <text x="980.9" y="539.3" textLength="179" lengthAdjust="spacingAndGlyphs">1, Centro Cultural Daniel Mantilla Orbegozo</text>
 <text x="980.9" y="562.9" textLength="103.6" lengthAdjust="spacingAndGlyphs">2, Club Unión - Cabecera</text>
 <text x="980.9" y="586.9" textLength="70.7" lengthAdjust="spacingAndGlyphs">3, Colegio Gaitán</text>
 <text x="980.9" y="610.5" textLength="83.4" lengthAdjust="spacingAndGlyphs">4, Hospital del Norte</text>
 <text x="980.9" y="630.8" textLength="66.5" lengthAdjust="spacingAndGlyphs">Límite Municipal</text>
</g>
<rect x="949.5" y="622.4" width="26.8" height="10.7" fill="#fff" stroke="#3b8a2b" stroke-width="1.6"/>

<!-- ================= RIGHT TEXT ================= -->
<g font-size="10.6" fill="#222">
 <text x="923.4" y="688.7" textLength="582.2" lengthAdjust="spacingAndGlyphs">El SVCA  de la CDMB declara que los resultados obtenidos en la medición concentración de PM2.5 son validos para la</text>
 <text x="923.4" y="702.5" textLength="94.4" lengthAdjust="spacingAndGlyphs">muestra  analizada.</text>
 <text x="923.4" y="731.8" textLength="504.3" lengthAdjust="spacingAndGlyphs">Observación 1: Determinación Directa en Campo de Material Particulado como PM2.5 en la Atmósfera:</text>
 <text x="923.4" y="746.2" textLength="580.1" lengthAdjust="spacingAndGlyphs">Sistemas de Medición Automatizados para la  determinación de la Concentración de Material Particulado (PM10;</text>
 <text x="923.4" y="760.1" textLength="487.4" lengthAdjust="spacingAndGlyphs">PM2.5): EN 16450:2017. La incertidumbre del parámetro PM2.5 es 0.50715 (Incertidumbre Tipo B).</text>
 <text x="923.4" y="789.2" textLength="582.2" lengthAdjust="spacingAndGlyphs">Observación 2: Para las estaciones Hospital Local del Norte y Club Unión, no existen datos disponibles debido a una</text>
 <text x="923.4" y="803.8" textLength="449.5" lengthAdjust="spacingAndGlyphs">alteración de las condiciones ambientales internas presentada por una sobrecarga eléctrica.</text>
</g>

<!-- ================= FOOTER ================= -->
<line x1="43" y1="828.4" x2="884.6" y2="828.4" stroke="#a9cbe8" stroke-width="0.6"/>
<line x1="43" y1="829.2" x2="884.6" y2="829.2" stroke="#3a78b5" stroke-width="1.2"/>
<line x1="884.6" y1="829" x2="1525" y2="829" stroke="#44a151" stroke-width="1.5"/>
<text x="43" y="861" font-size="21" font-weight="bold" fill="#111" textLength="641.4" lengthAdjust="spacingAndGlyphs">Los datos no validados y en tiempo real pueden ser consultados en:</text>
<text x="686.3" y="861" font-size="21" fill="#111" textLength="532.2" lengthAdjust="spacingAndGlyphs">https://ambiensq2.dyndns.org/ambiensq/#!/mapa/cdmb</text>
<line x1="1233.9" y1="843.3" x2="1410" y2="843.3" stroke="#777" stroke-width="0.8"/>
<line x1="1233.9" y1="871.1" x2="1410" y2="871.1" stroke="#666" stroke-width="1.3"/>
<line x1="1233.9" y1="843.3" x2="1233.9" y2="871.1" stroke="#777" stroke-width="0.8"/>
<line x1="1360.3" y1="843.3" x2="1360.3" y2="871.1" stroke="#777" stroke-width="0.8"/>
<text x="1236.9" y="858" font-size="11" font-weight="bold" fill="#111" textLength="110.8" lengthAdjust="spacingAndGlyphs">Aprobó: Líder SVCA</text>
<text x="1362.6" y="858" font-size="11" font-weight="bold" fill="#111" textLength="32.5" lengthAdjust="spacingAndGlyphs">Firma</text>
<g fill="none" stroke="#111" stroke-width="0.8" stroke-linecap="round">
 <path d="M1414,859 q2,-4 4,-1 q1,3 3,0 q1,-3 3,-1 q1,3 3,0 l1,-3"/>
 <path d="M1431,859 l3,-4 M1432,856 l3,0"/>
 <path d="M1452,848 q-6,-3 -6,5 q0,6 6,3 q3,-2 5,0 q2,2 4,-1 q2,3 4,0 q-3,10 -6,22"/>
 <path d="M1476,857 q3,-3 4,0 q-3,2 -1,-2 M1484,858 q4,-16 10,-13 q-2,6 -7,13 q4,-1 6,-2 q2,1 4,-1 q1,2 3,-1 q1,2 3,0"/>
 <path d="M1512,858 q2,-4 4,-1 q1,-4 4,0 q1,-4 4,-1 q2,-1 3,-2 M1526,855 q3,-6 6,-2 q-2,4 -4,4"/>
 <circle cx="1539" cy="858" r="0.6" fill="#111"/>
</g>
</svg>
</body></html>
